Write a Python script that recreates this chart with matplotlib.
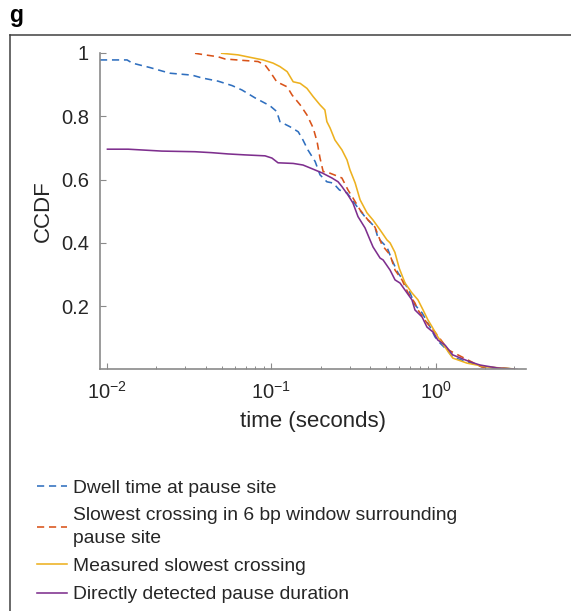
import matplotlib
matplotlib.use('Agg')
import matplotlib.pyplot as plt
from matplotlib.lines import Line2D

plt.rcParams['font.family'] = ['Liberation Sans', 'DejaVu Sans']
plt.rcParams['mathtext.fontset'] = 'custom'
plt.rcParams['mathtext.rm'] = 'Liberation Sans'
plt.rcParams['mathtext.it'] = 'Liberation Sans:italic'
plt.rcParams['mathtext.bf'] = 'Liberation Sans:bold'

# CCDF curves (time in seconds, CCDF value)
dwell_t = [0.0091, 0.0133, 0.0143, 0.0183, 0.0217, 0.0243, 0.033, 0.038, 0.0475, 0.0578,
           0.0664, 0.0798, 0.0984, 0.108, 0.113, 0.130, 0.146, 0.156, 0.167, 0.185,
           0.198, 0.218, 0.238, 0.260, 0.289, 0.333, 0.372, 0.427, 0.446, 0.506,
           0.542, 0.590, 0.633, 0.698, 0.748, 0.826, 0.923, 0.990, 1.06, 1.17,
           1.27, 1.94, 2.95]
dwell_v = [0.978, 0.978, 0.968, 0.954, 0.943, 0.936, 0.930, 0.921, 0.911, 0.897,
           0.883, 0.858, 0.833, 0.815, 0.783, 0.767, 0.751, 0.725, 0.694, 0.657,
           0.615, 0.593, 0.589, 0.567, 0.558, 0.514, 0.482, 0.450, 0.415, 0.386,
           0.346, 0.305, 0.283, 0.242, 0.204, 0.179, 0.135, 0.103, 0.084, 0.062,
           0.039, 0.008, 0.002]

window_t = [0.0344, 0.0396, 0.0475, 0.0524, 0.062, 0.0832, 0.0917, 0.0984, 0.108, 0.125,
            0.134, 0.150, 0.165, 0.180, 0.190, 0.198, 0.207, 0.218, 0.244, 0.269,
            0.293, 0.314, 0.347, 0.388, 0.427, 0.472, 0.528, 0.566, 0.624, 0.679,
            0.748, 0.780, 0.885, 0.990, 1.11, 1.19, 1.9, 2.9]
window_v = [0.999, 0.994, 0.988, 0.981, 0.978, 0.973, 0.962, 0.941, 0.909, 0.893,
            0.867, 0.836, 0.804, 0.763, 0.720, 0.668, 0.625, 0.624, 0.614, 0.605,
            0.567, 0.542, 0.504, 0.472, 0.450, 0.393, 0.362, 0.314, 0.283, 0.242,
            0.210, 0.188, 0.147, 0.118, 0.084, 0.062, 0.008, 0.002]

slowest_t = [0.050, 0.0629, 0.0764, 0.0892, 0.1026, 0.113, 0.125, 0.136, 0.150, 0.165,
             0.180, 0.198, 0.212, 0.218, 0.228, 0.244, 0.269, 0.289, 0.301, 0.324,
             0.347, 0.382, 0.416, 0.459, 0.506, 0.528, 0.565, 0.600, 0.651, 0.717,
             0.780, 0.838, 0.898, 0.950, 1.03, 1.17, 1.27, 1.55, 2.05, 2.95]
slowest_v = [0.999, 0.994, 0.985, 0.978, 0.968, 0.957, 0.941, 0.909, 0.904, 0.888,
             0.862, 0.836, 0.820, 0.783, 0.763, 0.725, 0.694, 0.662, 0.631, 0.589,
             0.536, 0.495, 0.472, 0.441, 0.409, 0.400, 0.370, 0.320, 0.273, 0.242,
             0.220, 0.188, 0.156, 0.135, 0.103, 0.062, 0.036, 0.020, 0.008, 0.002]

direct_t = [0.0101, 0.0135, 0.0216, 0.0344, 0.0435, 0.0546, 0.0693, 0.0917, 0.101, 0.110,
            0.136, 0.156, 0.172, 0.204, 0.234, 0.255, 0.269, 0.293, 0.314, 0.337,
            0.372, 0.399, 0.416, 0.459, 0.479, 0.528, 0.566, 0.607, 0.669, 0.717,
            0.748, 0.826, 0.885, 0.964, 1.03, 1.14, 1.27, 1.62, 1.86, 2.36, 3.12]
direct_v = [0.696, 0.696, 0.690, 0.688, 0.685, 0.681, 0.678, 0.675, 0.668, 0.653,
            0.651, 0.646, 0.637, 0.621, 0.605, 0.593, 0.578, 0.551, 0.526, 0.483,
            0.447, 0.409, 0.387, 0.352, 0.346, 0.314, 0.283, 0.273, 0.242, 0.220,
            0.188, 0.166, 0.134, 0.118, 0.093, 0.077, 0.046, 0.024, 0.014, 0.005, 0.0]

labels = ['Dwell time at pause site',
          'Slowest crossing in 6 bp window surrounding\npause site',
          'Measured slowest crossing',
          'Directly detected pause duration']
yticks = [0.2, 0.4, 0.6, 0.8, 1]
ytick_labels = ['0.2', '0.4', '0.6', '0.8', '1']

fig = plt.figure(figsize=(5.71, 6.11), dpi=100)
ax = fig.add_axes([0.1751, 0.3953, 0.7461, 0.518])

lw = 1.15
ax.plot(dwell_t, dwell_v, color='#2f6fbf', lw=lw, ls=(0, (4.5, 3)), label=labels[0])
ax.plot(window_t, window_v, color='#D95319', lw=lw, ls=(0, (4.5, 3)), label=labels[1])
ax.plot(slowest_t, slowest_v, color='#EDB120', lw=lw, label=labels[2])
ax.plot(direct_t, direct_v, color='#7E2F8E', lw=lw, label=labels[3])

ax.set_xscale('log')
ax.set_xlim(0.0091, 3.54)
ax.set_ylim(0, 1)
ax.set_yticks(yticks)
ax.set_yticklabels(ytick_labels)

for s in ['top', 'right']:
    ax.spines[s].set_visible(False)
for s in ['left', 'bottom']:
    ax.spines[s].set_color('#8a8a8a')
    ax.spines[s].set_linewidth(1.2)

ax.tick_params(which='major', direction='in', length=4, width=0.8, color='#8a8a8a',
               labelsize=14.5, labelcolor='#262626', pad=8)
ax.tick_params(which='minor', direction='in', length=2.5, width=0.7, color='#8a8a8a')

ax.set_xlabel('time (seconds)', fontsize=16, color='#262626', labelpad=6)
ax.set_ylabel('CCDF', fontsize=16, color='#262626', labelpad=5)

leg = fig.legend(loc='upper left', bbox_to_anchor=(0.064, 0.216), frameon=False,
                 fontsize=13.9, handlelength=1.6, handletextpad=0.3, labelspacing=0.55,
                 borderpad=0, borderaxespad=0)
for t in leg.get_texts():
    t.set_linespacing(1.45)
    t.set_color('#262626')

# panel letter and frame
fig.text(0.016, 1 - 22 / 611, 'g', fontsize=16.5, fontweight='bold', va='baseline')
fig.add_artist(Line2D([9.5 / 571, 1], [1 - 34.7 / 611, 1 - 34.7 / 611],
                     transform=fig.transFigure, color='#404040', lw=1.1))
fig.add_artist(Line2D([9.5 / 571, 9.5 / 571], [1 - 34.7 / 611, 0],
                     transform=fig.transFigure, color='#404040', lw=1.1))

fig.savefig('out.png', dpi=100)
